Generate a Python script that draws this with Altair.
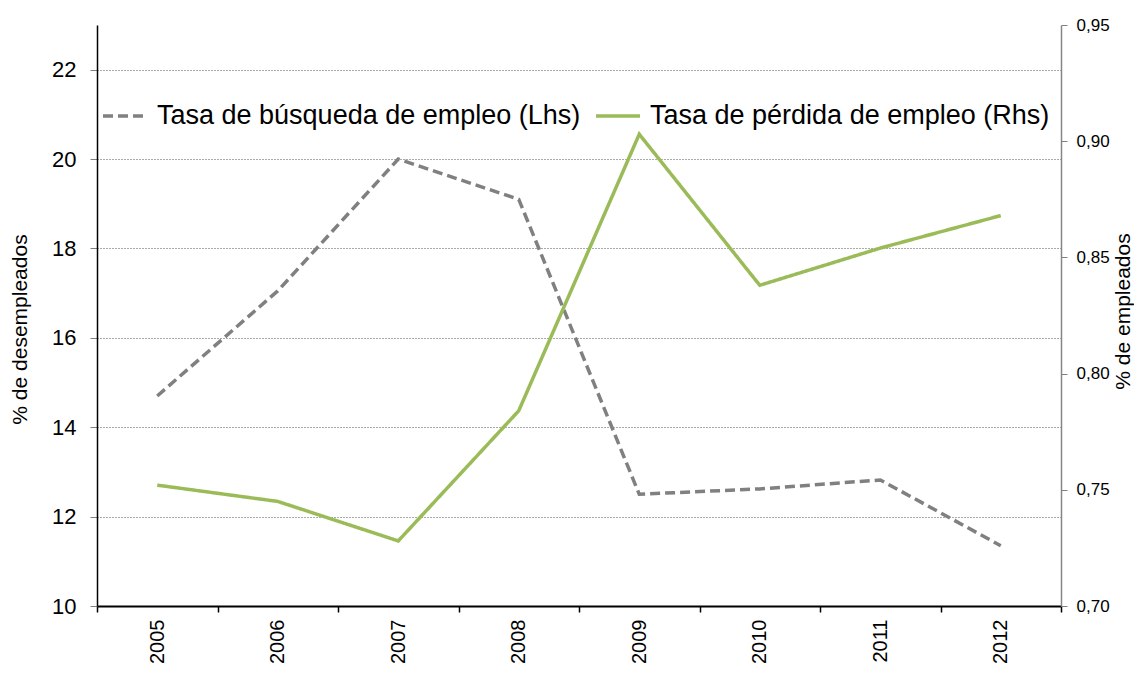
import altair as alt
import pandas as pd

years = ["2005", "2006", "2007", "2008", "2009", "2010", "2011", "2012"]
busqueda = [14.7, 17.05, 20.0, 19.1, 12.5, 12.62, 12.82, 11.35]
perdida = [0.752, 0.745, 0.728, 0.784, 0.903, 0.838, 0.854, 0.868]

s1 = "Tasa de búsqueda de empleo (Lhs)"
s2 = "Tasa de pérdida de empleo (Rhs)"

left_ticks = [10, 12, 14, 16, 18, 20, 22]
right_ticks = [0.70, 0.75, 0.80, 0.85, 0.90, 0.95]

df = pd.DataFrame(
    [{"year": y, "serie": s1, "value": v} for y, v in zip(years, busqueda)]
    + [{"year": y, "serie": s2, "value": v} for y, v in zip(years, perdida)]
)

FONT = "Liberation Sans"

x_enc = alt.X(
    "year:O",
    sort=years,
    scale=alt.Scale(type="band", paddingInner=0, paddingOuter=0),
    axis=alt.Axis(
        title=None,
        tickBand="extent",
        labelAngle=270,
        labelAlign="right",
        labelBaseline="middle",
        labelFontSize=20,
        labelColor="black",
        labelPadding=7,
        tickSize=6,
        tickColor="black",
        tickWidth=1.5,
        domainColor="black",
        domainWidth=2,
        grid=False,
        labelFont=FONT,
    ),
)

def make_legend():
    return alt.Legend(
        title=None,
        orient="none",
        legendX=4,
        legendY=67,
        direction="horizontal",
        symbolType="stroke",
        symbolSize=1936,
        symbolStrokeWidth=3.5,
        labelFontSize=27,
        labelFont=FONT,
        labelColor="black",
        labelOffset=8,
        columnPadding=8,
        padding=0,
        labelLimit=600,
    )

color_enc = alt.Color(
    "serie:N",
    scale=alt.Scale(domain=[s1, s2], range=["#808080", "#9BBB59"]),
    legend=make_legend(),
)
dash_enc = alt.StrokeDash(
    "serie:N",
    scale=alt.Scale(domain=[s1, s2], range=[[10, 5], [1, 0]]),
    legend=make_legend(),
)

base = alt.Chart(df)

left = base.transform_filter(alt.datum.serie == s1).mark_line(strokeWidth=3.5).encode(
    x=x_enc,
    y=alt.Y(
        "value:Q",
        scale=alt.Scale(domain=[10, 23], nice=False, zero=False),
        axis=alt.Axis(
            orient="left",
            values=left_ticks,
            title="% de desempleados",
            titleFontSize=21,
            titleFontWeight="normal",
            titleFont=FONT,
            titleColor="black",
            titleAngle=270,
            titleX=-77,
            titleY=304,
            titleAlign="center",
            titleBaseline="middle",
            labelFontSize=22,
            labelFont=FONT,
            labelColor="black",
            labelPadding=14,
            tickSize=7,
            tickColor="#808080",
            domainColor="black",
            domainWidth=1.5,
            grid=True,
            gridColor="#555555",
            gridDash=[1, 2],
            gridWidth=1,
        ),
    ),
    color=color_enc,
    strokeDash=dash_enc,
)

right = base.transform_filter(alt.datum.serie == s2).mark_line(strokeWidth=3.5).encode(
    x=x_enc,
    y=alt.Y(
        "value:Q",
        scale=alt.Scale(domain=[0.70, 0.95], nice=False, zero=False),
        axis=alt.Axis(
            orient="right",
            values=right_ticks,
            labelExpr="replace(format(datum.value, '.2f'), '.', ',')",
            title="% de empleados",
            titleFontSize=21,
            titleFontWeight="normal",
            titleFont=FONT,
            titleColor="black",
            titleAngle=270,
            titleX=62,
            titleY=286,
            titleAlign="center",
            titleBaseline="middle",
            labelFontSize=17,
            labelFont=FONT,
            labelColor="black",
            labelPadding=9,
            tickSize=6,
            tickColor="#808080",
            domainColor="#868686",
            domainWidth=1.5,
            grid=False,
        ),
    ),
    color=color_enc,
    strokeDash=dash_enc,
)

chart = (
    alt.layer(left, right)
    .resolve_scale(y="independent")
    .properties(
        width=964,
        height=581,
        autosize=alt.AutoSizeParams(type="none"),
        padding={"left": 89, "top": 17, "right": 73, "bottom": 60},
        background="white",
    )
    .configure_view(stroke=None)
)

chart.save("out.html", embed_options={"renderer": "svg", "actions": False})
